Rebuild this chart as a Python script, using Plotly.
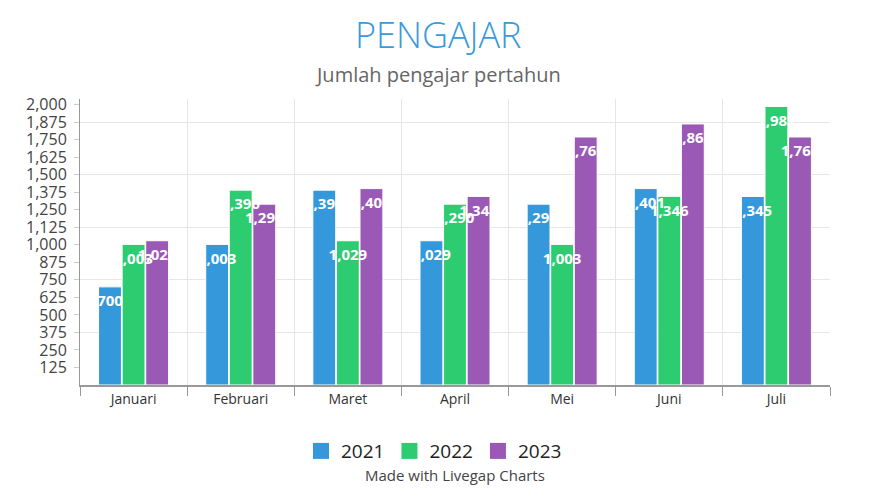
import plotly.graph_objects as go

# data
bulan = ["Januari", "Februari", "Maret", "April", "Mei", "Juni", "Juli"]
tahun = ["2021", "2022", "2023"]
nilai_2021 = [700, 1003, 1390, 1029, 1290, 1401, 1345]
nilai_2022 = [1003, 1390, 1029, 1290, 1003, 1346, 1987]
nilai_2023 = [1029, 1290, 1401, 1345, 1769, 1862, 1769]
warna = ["#3498db", "#2ecc71", "#9b59b6"]
y_ticks = list(range(125, 2001, 125))

FONT = "Open Sans"
Y_MAX = 2040
LABEL_SHIFT = 57   # labels sit a bit below the bar top

fig = go.Figure()
semua = list(zip(tahun, [nilai_2021, nilai_2022, nilai_2023], warna))

for nama, nilai, w in semua:
    fig.add_trace(go.Bar(
        x=bulan, y=nilai, name=nama, offsetgroup=nama,
        marker=dict(color=w, line=dict(color="white", width=1)),
        showlegend=False,
    ))

# value labels drawn on top of all bars (like the datalabels plugin)
for nama, nilai, w in semua:
    fig.add_trace(go.Scatter(
        x=bulan, y=nilai, offsetgroup=nama, mode="text", yaxis="y3",
        text=[f"{v:,}" for v in nilai], textposition="bottom center",
        textfont=dict(family=FONT, size=15, color="white", weight="bold"),
        showlegend=False, hoverinfo="skip",
    ))

# bigger square legend markers
for nama, nilai, w in semua:
    fig.add_trace(go.Scatter(
        x=[None], y=[None], mode="markers", name=nama,
        marker=dict(symbol="square", size=20, color=w),
    ))

# extra grid every 375 (as in the original)
fig.add_trace(go.Scatter(x=[None], y=[None], yaxis="y2", showlegend=False))

# page has 8px body margin, so figure is 8px smaller
fig.update_layout(
    width=867, height=492,
    paper_bgcolor="white", plot_bgcolor="white",
    font=dict(family=FONT, color="#333"),
    barmode="group", bargap=0.34, bargroupgap=0.03,
    scattermode="group", scattergap=0.34,
    margin=dict(l=72, r=45, t=91, b=115),
    xaxis=dict(
        tickson="boundaries", showgrid=True, gridcolor="#e6e6e6",
        ticks="outside", ticklen=9, tickcolor="#999",
        showline=True, linecolor="#999", linewidth=2,
        tickfont=dict(size=14, color="#333"),
    ),
    yaxis=dict(
        range=[0, Y_MAX], tickvals=y_ticks, tickformat=",d",
        showgrid=False, zeroline=False,
        ticks="outside", ticklen=5, tickcolor="#ccc",
        ticklabelstandoff=4,
        showline=True, linecolor="#999", linewidth=1,
        tickfont=dict(size=16, color="#444"),
    ),
    yaxis2=dict(
        range=[0, Y_MAX], dtick=375, overlaying="y", side="left",
        showgrid=True, gridcolor="#e6e6e6", showticklabels=False,
        zeroline=False, ticks="",
    ),
    yaxis3=dict(
        range=[LABEL_SHIFT, Y_MAX + LABEL_SHIFT], overlaying="y", side="left",
        visible=False,
    ),
    legend=dict(
        orientation="h", x=0.472, xanchor="center", y=-0.231, yanchor="middle",
        font=dict(size=19, color="#222"), itemwidth=30,
    ),
    annotations=[
        dict(text="PENGAJAR", xref="paper", yref="paper", x=0.4767, y=1.224,
             xanchor="center", yanchor="middle", showarrow=False,
             font=dict(size=36, color="#3a9ad9", weight=300)),
        dict(text="Jumlah pengajar pertahun", xref="paper", yref="paper",
             x=0.4767, y=1.084, xanchor="center", yanchor="middle", showarrow=False,
             font=dict(size=20, color="#666")),
        dict(text="Made with Livegap Charts", xref="paper", yref="paper",
             x=0.5, y=-0.315, xanchor="center", yanchor="middle", showarrow=False,
             font=dict(size=15, color="#444")),
    ],
)

fig.write_html("out.html")
